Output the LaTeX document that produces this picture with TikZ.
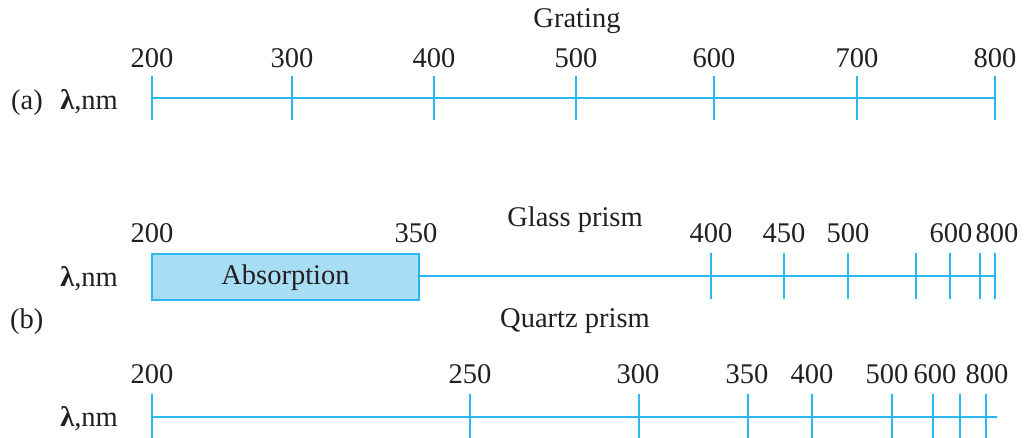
\documentclass[tikz,border=0pt]{standalone}
\usepackage{fontspec}
\setmainfont{Liberation Serif}
\definecolor{axc}{HTML}{29B8F0}
\definecolor{boxfill}{HTML}{A8DDF6}
\definecolor{txt}{HTML}{231F20}
\begin{document}
\begin{tikzpicture}[x=1pt,y=-1pt,
  axis/.style={draw=axc,line width=2.2pt},
  lbl/.style={anchor=base,inner sep=0pt,text=txt,font=\fontsize{28.5}{32}\selectfont},
  lblR/.style={lbl,anchor=base east},
  lblL/.style={lbl,anchor=base west}]
\useasboundingbox (0,0) rectangle (1025,438);
% ---------- (a) Grating ----------
\node[lbl] (gr) at (577,28) {Grating};
\node[lblL] (pa) at (11,110) {(a)};
\node[lblR] (la) at (118,110) {{\bfseries λ},nm};
\coordinate (a0) at (152,98);
\coordinate (a1) at (995,98);
\draw[axis] (a0) -- (a1);
\foreach \x/\v in {152/200,292/300,434/400,576/500,714/600,857/700,995/800}{
  \draw[axis] (\x,76) -- (\x,120);
  \node[lbl] (a\v) at (\x,68) {\v};
}
% ---------- (b) Glass prism ----------
\node[lbl] (gp) at (575,227) {Glass prism};
\node[lblR] (lb) at (118,287) {{\bfseries λ},nm};
\node[lblL] (bb) at (10,328) {(b)};
\node[draw=axc,fill=boxfill,line width=2.2pt,minimum width=267pt,minimum height=46pt,inner sep=0pt] (abs) at (285.5,277) {};
\node[lbl] (abst) at (285.5,285) {Absorption};
\coordinate (b1) at (995,276);
\draw[axis] (abs.east |- b1) -- (b1);
\foreach \x in {711,784,848,916,950,980,995}{
  \draw[axis] (\x,253) -- (\x,299);
}
\foreach \x/\v in {152/200,416/350,711/400,784/450,848/500,951/600,997/800}{
  \node[lbl] (b\v) at (\x,243) {\v};
}
% ---------- Quartz prism ----------
\node[lbl] (qp) at (575,327) {Quartz prism};
\node[lblR] (lc) at (118,426) {{\bfseries λ},nm};
\coordinate (c0) at (152,417);
\coordinate (c1) at (997,417);
\draw[axis] (c0) -- (c1);
\foreach \x in {152,470,639,748,812,892,933,960,986}{
  \draw[axis] (\x,394) -- (\x,440);
}
\foreach \x/\v in {152/200,470/250,638/300,747/350,812/400,887/500,935/600,987/800}{
  \node[lbl] (c\v) at (\x,383) {\v};
}
\end{tikzpicture}
\end{document}
